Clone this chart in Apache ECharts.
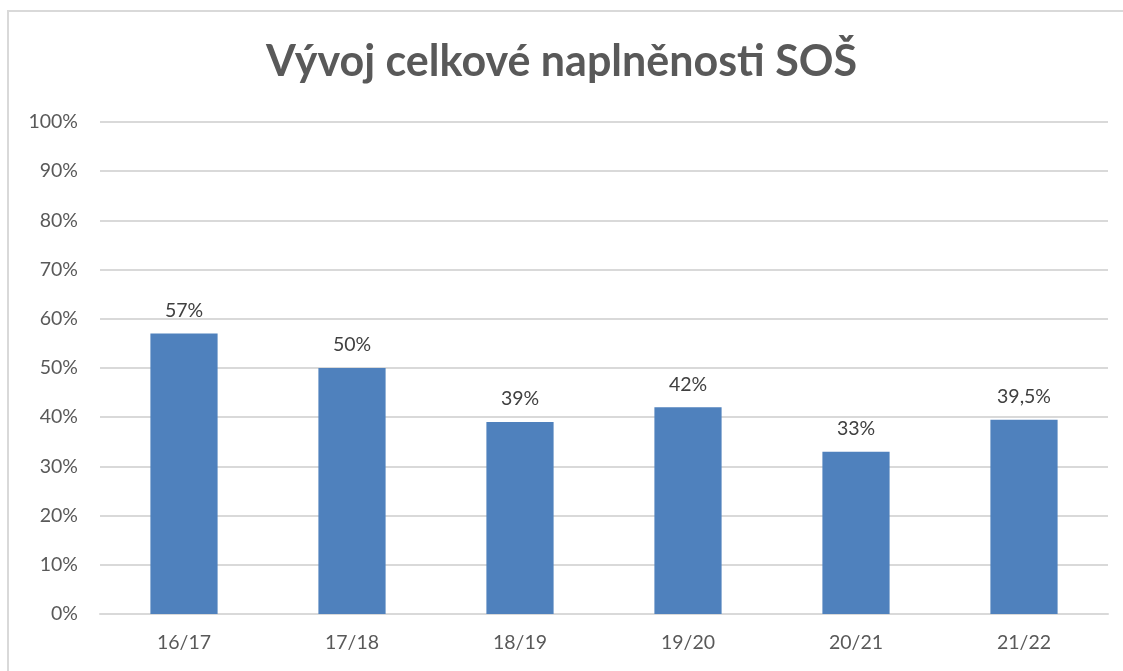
<!DOCTYPE html>
<html>
<head>
<meta charset="utf-8">
<script src="https://cdn.jsdelivr.net/npm/echarts@6/dist/echarts.min.js"></script>
<style>
  html, body { margin: 0; padding: 0; background: #fff; overflow: hidden; width: 1123px; height: 671px; }
  #frame { position: absolute; left: 7px; top: 10px; width: 1140px; height: 680px; border-left: 2px solid #d9d9d9; border-top: 2px solid #d9d9d9; }
  #chart { position: absolute; left: 0; top: 0; width: 1123px; height: 671px; }
</style>
</head>
<body>
<div id="frame"></div>
<div id="chart"></div>
<script>
// school years
const years = ["16/17", "17/18", "18/19", "19/20", "20/21", "21/22"];
// overall fill rate in percent
const fillRate = [57, 50, 39, 42, 33, 39.5];
const yTicks = [0, 10, 20, 30, 40, 50, 60, 70, 80, 90, 100];

const font = "Lato, 'Open Sans', sans-serif";
let myChart = echarts.init(document.getElementById("chart"));
myChart.setOption({
  animation: false,
  title: {
    text: "Vývoj celkové naplněnosti SOŠ",
    left: "center",
    top: 36,
    textStyle: { fontFamily: font, fontSize: 43, fontWeight: "bold", color: "#595959" },
  },
  grid: { left: 100, right: 15, top: 122, bottom: 57 },
  xAxis: {
    type: "category",
    data: years,
    axisLine: { lineStyle: { color: "#d9d9d9", width: 2 } },
    axisTick: { show: false },
    axisLabel: { fontFamily: font, fontSize: 19.5, color: "#595959", margin: 19 },
  },
  yAxis: {
    type: "value",
    min: yTicks[0],
    max: yTicks[yTicks.length - 1],
    interval: 10,
    axisLine: { show: false },
    axisTick: { show: false },
    splitLine: { lineStyle: { color: "#d9d9d9", width: 2 } },
    axisLabel: {
      fontFamily: font, fontSize: 19.5, color: "#595959", margin: 22,
      formatter: (v) => v + "%",
    },
  },
  series: [
    {
      type: "bar",
      data: fillRate,
      barWidth: "40%",
      itemStyle: { color: "#4f81bd" },
      label: {
        show: true,
        position: "top",
        distance: 13,
        fontFamily: font,
        fontSize: 19.5,
        color: "#404040",
        formatter: (p) => String(p.value).replace(".", ",") + "%",
      },
    },
  ],
});
window.onresize = function () {
  myChart.resize();
};
</script>
</body>
</html>
